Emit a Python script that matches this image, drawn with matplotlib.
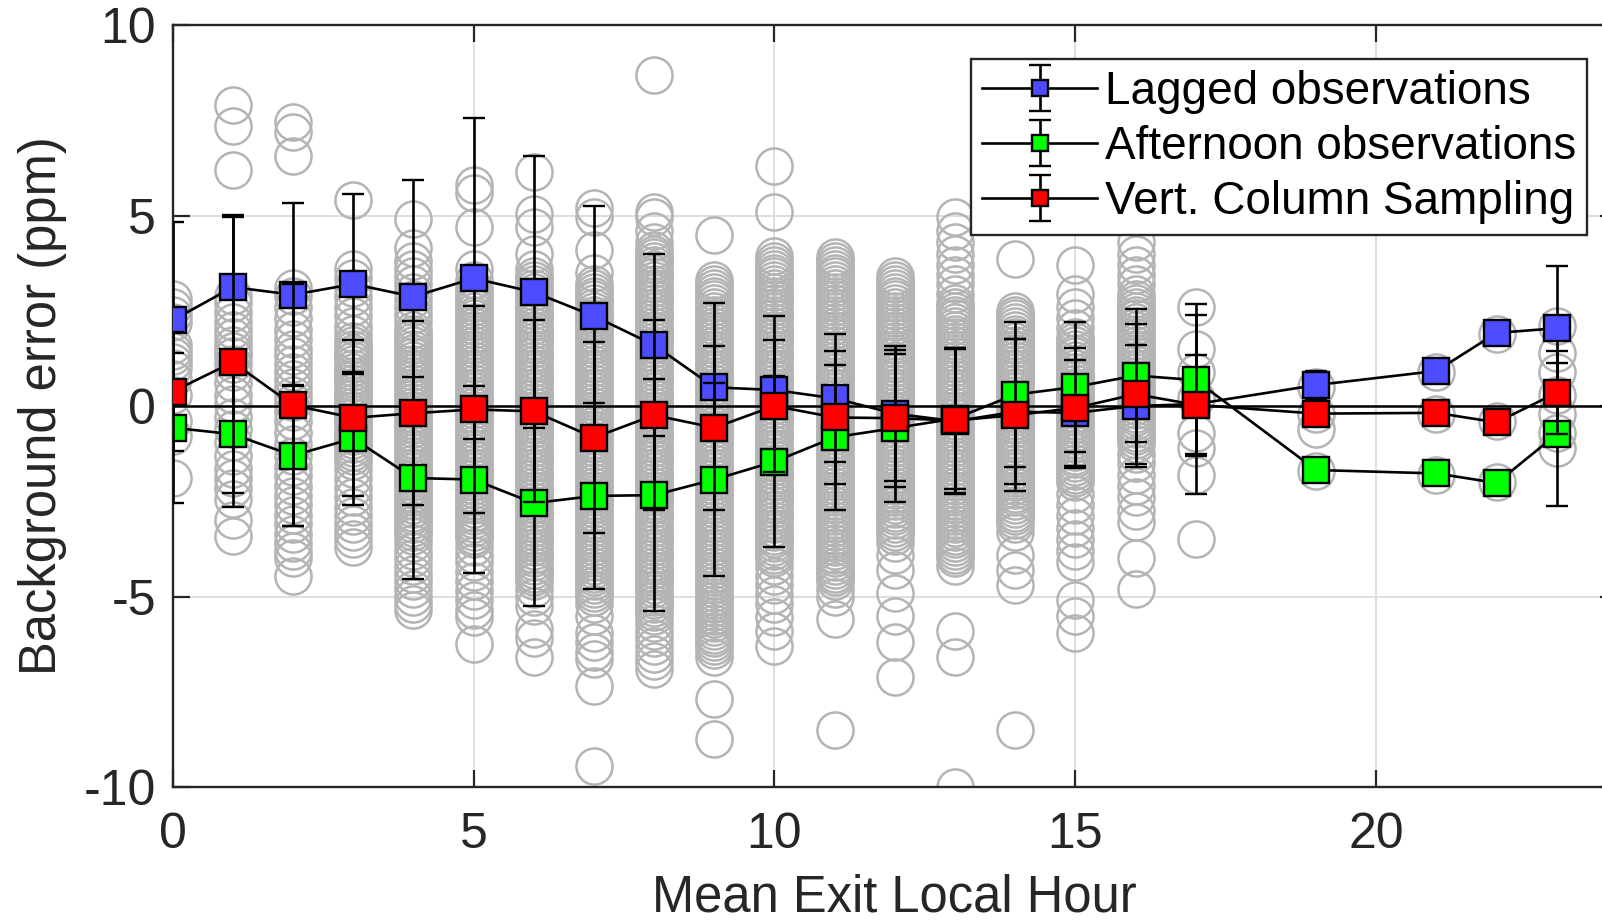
import matplotlib
matplotlib.use("Agg")
import matplotlib.pyplot as plt

plt.rcParams['font.family'] = ['Liberation Sans', 'DejaVu Sans']
plt.rcParams['axes.unicode_minus'] = False

# hours with a mean value
hours = [0, 1, 2, 3, 4, 5, 6, 7, 8, 9, 10, 11, 12, 13, 14, 15, 16, 17, 19, 21, 22, 23]

lagged_mean = [2.25, 3.12, 2.92, 3.20, 2.87, 3.35, 2.99, 2.36, 1.60, 0.49, 0.42, 0.20,
               -0.20, -0.40, -0.15, -0.18, 0.00, 0.05, 0.55, 0.92, 1.92, 2.04]
lagged_err = [2.59, 1.89, 2.40, 2.37, 3.06, 4.22, 3.56, 2.88, 2.38, 2.22, 1.95, 1.68,
              1.77, 1.90, 1.90, 1.40, 1.60, 1.30, 0.38, 0.05, 0.00, 1.64]

afternoon_mean = [-0.57, -0.74, -1.30, -0.85, -1.89, -1.93, -2.55, -2.36, -2.34, -1.93, -1.46, -0.82,
                  -0.58, -0.33, 0.30, 0.50, 0.80, 0.68, -1.68, -1.77, -2.02, -0.74]
afternoon_err = [1.97, 1.55, 1.85, 1.75, 2.66, 2.45, 2.71, 2.44, 3.05, 2.54, 2.24, 1.90,
                 1.95, 1.85, 1.90, 1.70, 1.74, 2.00, 0.30, 0.13, 0.00, 1.88]

column_mean = [0.38, 1.15, 0.02, -0.31, -0.19, -0.09, -0.14, -0.83, -0.24, -0.57, 0.00, -0.30,
               -0.32, -0.38, -0.24, -0.05, 0.31, 0.03, -0.20, -0.18, -0.43, 0.35]
column_err = [1.56, 3.80, 3.18, 2.05, 2.41, 2.71, 2.39, 2.50, 2.50, 2.15, 1.72, 1.75,
              1.80, 1.90, 2.00, 1.58, 1.84, 2.35, 0.31, 0.10, 0.00, 1.09]

# individual background errors (grey circles), one list per hour
pts_00 = [2.8, 2.6, 2.4, 2.2, 1.6, 1.45, 1.3, 1.15, 1.0, 0.7, 0.3, -0.4, -0.8, -1.9]
pts_01 = [7.9, 7.35, 6.2, 2.9, 2.7, 2.45, 2.2, 2.0, 1.8, 1.6, 1.45, 1.3, 1.1, 0.9, 0.6, 0.3,
          0.05, -0.3, -0.6, -0.95, -1.3, -1.65, -1.9, -2.15, -2.45, -3.0, -3.4]
pts_02 = [7.45, 7.2, 6.55, 3.1, 2.9, 2.6, 2.3, 2.0, 1.75, 1.5, 1.3, 1.1, 0.9, 0.7, 0.5, 0.3,
          0.1, -0.15, -0.4, -0.7, -1.0, -1.3, -1.6, -1.85, -2.1, -2.35, -2.6, -2.85, -3.1,
          -3.35, -3.6, -3.8, -4.0, -4.45]
pts_03 = [5.4, 3.6, 3.35, 3.1, 2.85, 2.6, 2.35, 2.1, 1.9,
          1.7, 1.6, 1.5, 1.4, 1.3, 1.2, 1.1, 1.0, 0.9, 0.8, 0.7, 0.6, 0.5, 0.4, 0.3, 0.2,
          0.1, 0.0, -0.1, -0.2, -0.3, -0.4, -0.5, -0.6, -0.7, -0.8, -0.9, -1.0, -1.1, -1.2,
          -1.3, -1.45, -1.65, -1.9, -2.15, -2.4, -2.65, -2.9, -3.1, -3.3, -3.5, -3.7]
pts_04 = [4.9, 4.15, 3.8, 3.6, 3.4, 3.2, 3.0, 2.8, 2.6, 2.4, 2.2,
          2.0, 1.9, 1.8, 1.7, 1.6, 1.5, 1.4, 1.3, 1.2, 1.1, 1.0, 0.9, 0.8, 0.7, 0.6, 0.5,
          0.4, 0.3, 0.2, 0.1, 0.0, -0.1, -0.2, -0.3, -0.4, -0.5, -0.6, -0.7, -0.8, -0.9,
          -1.0, -1.1, -1.2, -1.3, -1.4, -1.5, -1.6, -1.7, -1.8, -1.9, -2.0, -2.1, -2.2,
          -2.3, -2.4, -2.5, -2.6, -2.7, -2.8, -2.9, -3.0, -3.1, -3.2, -3.3, -3.4,
          -3.6, -3.8, -4.0, -4.2, -4.4, -4.6, -4.8, -5.0, -5.2, -5.35]
pts_05 = [5.8, 5.6, 4.7, 3.6, 3.3,
          3.1, 3.0, 2.9, 2.8, 2.7, 2.6, 2.5, 2.4, 2.3, 2.2, 2.1, 2.0, 1.9, 1.8, 1.7, 1.6,
          1.5, 1.4, 1.3, 1.2, 1.1, 1.0, 0.9, 0.8, 0.7, 0.6, 0.5, 0.4, 0.3, 0.2, 0.1, 0.0,
          -0.1, -0.2, -0.3, -0.4, -0.5, -0.6, -0.7, -0.8, -0.9, -1.0, -1.1, -1.2, -1.3,
          -1.4, -1.5, -1.6, -1.7, -1.8, -1.9, -2.0, -2.1, -2.2, -2.3, -2.4, -2.5, -2.6,
          -2.7, -2.8, -2.9, -3.0, -3.1, -3.2, -3.3, -3.4, -3.5,
          -3.7, -3.9, -4.1, -4.35, -4.6, -4.85, -5.1, -5.35, -5.55, -6.25]
pts_06 = [6.15, 5.05, 4.7, 4.0, 3.6,
          3.4, 3.3, 3.2, 3.1, 3.0, 2.9, 2.8, 2.7, 2.6, 2.5, 2.4, 2.3, 2.2, 2.1, 2.0, 1.9,
          1.8, 1.7, 1.6, 1.5, 1.4, 1.3, 1.2, 1.1, 1.0, 0.9, 0.8, 0.7, 0.6, 0.5, 0.4, 0.3,
          0.2, 0.1, 0.0, -0.1, -0.2, -0.3, -0.4, -0.5, -0.6, -0.7, -0.8, -0.9, -1.0, -1.1,
          -1.2, -1.3, -1.4, -1.5, -1.6, -1.7, -1.8, -1.9, -2.0, -2.1, -2.2, -2.3, -2.4,
          -2.5, -2.6, -2.7, -2.8, -2.9, -3.0, -3.1, -3.2, -3.3, -3.4, -3.5, -3.6, -3.7,
          -3.8, -3.9, -4.0, -4.1, -4.2, -4.3, -4.4, -4.5, -4.6,
          -4.8, -5.0, -5.25, -5.85, -6.1, -6.6]
pts_07 = [5.2, 4.95, 4.1, 3.5,
          3.2, 3.1, 3.0, 2.9, 2.8, 2.7, 2.6, 2.5, 2.4, 2.3, 2.2, 2.1, 2.0, 1.9, 1.8, 1.7,
          1.6, 1.5, 1.4, 1.3, 1.2, 1.1, 1.0, 0.9, 0.8, 0.7, 0.6, 0.5, 0.4, 0.3, 0.2, 0.1,
          0.0, -0.1, -0.2, -0.3, -0.4, -0.5, -0.6, -0.7, -0.8, -0.9, -1.0, -1.1, -1.2,
          -1.3, -1.4, -1.5, -1.6, -1.7, -1.8, -1.9, -2.0, -2.1, -2.2, -2.3, -2.4, -2.5,
          -2.6, -2.7, -2.8, -2.9, -3.0, -3.1, -3.2, -3.3, -3.4, -3.5, -3.6, -3.7, -3.8,
          -3.9, -4.0, -4.1, -4.2, -4.3, -4.4, -4.5, -4.6, -4.7, -4.8, -4.9, -5.0,
          -5.2, -5.5, -5.95, -6.2, -6.45, -6.65, -7.35, -9.45]
pts_08 = [8.7, 5.1, 4.95, 4.6, 4.3,
          4.1, 4.0, 3.9, 3.8, 3.7, 3.6, 3.5, 3.4, 3.3, 3.2, 3.1, 3.0, 2.9, 2.8, 2.7, 2.6,
          2.5, 2.4, 2.3, 2.2, 2.1, 2.0, 1.9, 1.8, 1.7, 1.6, 1.5, 1.4, 1.3, 1.2, 1.1, 1.0,
          0.9, 0.8, 0.7, 0.6, 0.5, 0.4, 0.3, 0.2, 0.1, 0.0, -0.1, -0.2, -0.3, -0.4, -0.5,
          -0.6, -0.7, -0.8, -0.9, -1.0, -1.1, -1.2, -1.3, -1.4, -1.5, -1.6, -1.7, -1.8,
          -1.9, -2.0, -2.1, -2.2, -2.3, -2.4, -2.5, -2.6, -2.7, -2.8, -2.9, -3.0, -3.1,
          -3.2, -3.3, -3.4, -3.5, -3.6, -3.7, -3.8, -3.9, -4.0, -4.1, -4.2, -4.3, -4.4,
          -4.5, -4.6, -4.7, -4.8, -4.9, -5.0, -5.1, -5.2, -5.3, -5.4, -5.5,
          -5.7, -5.9, -6.1, -6.3, -6.5, -6.7, -6.9]
pts_09 = [4.5,
          3.3, 3.2, 3.1, 3.0, 2.9, 2.8, 2.7, 2.6, 2.5, 2.4, 2.3, 2.2, 2.1, 2.0, 1.9, 1.8,
          1.7, 1.6, 1.5, 1.4, 1.3, 1.2, 1.1, 1.0, 0.9, 0.8, 0.7, 0.6, 0.5, 0.4, 0.3, 0.2,
          0.1, 0.0, -0.1, -0.2, -0.3, -0.4, -0.5, -0.6, -0.7, -0.8, -0.9, -1.0, -1.1, -1.2,
          -1.3, -1.4, -1.5, -1.6, -1.7, -1.8, -1.9, -2.0, -2.1, -2.2, -2.3, -2.4, -2.5,
          -2.6, -2.7, -2.8, -2.9, -3.0, -3.1, -3.2, -3.3, -3.4, -3.5, -3.6, -3.7, -3.8,
          -3.9, -4.0, -4.1, -4.2, -4.3, -4.4, -4.5, -4.6, -4.7, -4.8, -4.9, -5.0, -5.1,
          -5.2, -5.3, -5.4, -5.5, -5.6, -5.7, -5.8, -5.9, -6.0, -6.1, -6.2, -6.3, -6.4,
          -6.6, -7.7, -8.75]
pts_10 = [6.3, 5.1, 3.95,
          3.8, 3.7, 3.6, 3.5, 3.4, 3.3, 3.2, 3.1, 3.0, 2.9, 2.8, 2.7, 2.6, 2.5, 2.4, 2.3,
          2.2, 2.1, 2.0, 1.9, 1.8, 1.7, 1.6, 1.5, 1.4, 1.3, 1.2, 1.1, 1.0, 0.9, 0.8, 0.7,
          0.6, 0.5, 0.4, 0.3, 0.2, 0.1, 0.0, -0.1, -0.2, -0.3, -0.4, -0.5, -0.6, -0.7,
          -0.8, -0.9, -1.0, -1.1, -1.2, -1.3, -1.4, -1.5, -1.6, -1.7, -1.8, -1.9, -2.0,
          -2.1, -2.2, -2.3, -2.4, -2.5, -2.6, -2.7, -2.8, -2.9, -3.0, -3.1, -3.2, -3.3,
          -3.4, -3.5, -3.6, -3.7, -3.8, -3.9, -4.0,
          -4.2, -4.45, -4.7, -4.95, -5.2, -5.55, -5.9, -6.3]
pts_11 = [3.9, 3.8, 3.7, 3.6, 3.5, 3.4, 3.3, 3.2, 3.1, 3.0, 2.9, 2.8, 2.7, 2.6, 2.5, 2.4,
          2.3, 2.2, 2.1, 2.0, 1.9, 1.8, 1.7, 1.6, 1.5, 1.4, 1.3, 1.2, 1.1, 1.0, 0.9, 0.8,
          0.7, 0.6, 0.5, 0.4, 0.3, 0.2, 0.1, 0.0, -0.1, -0.2, -0.3, -0.4, -0.5, -0.6, -0.7,
          -0.8, -0.9, -1.0, -1.1, -1.2, -1.3, -1.4, -1.5, -1.6, -1.7, -1.8, -1.9, -2.0,
          -2.1, -2.2, -2.3, -2.4, -2.5, -2.6, -2.7, -2.8, -2.9, -3.0, -3.1, -3.2, -3.3,
          -3.4, -3.5, -3.6, -3.7, -3.8, -3.9, -4.0, -4.1, -4.2, -4.3, -4.4, -4.5, -4.6,
          -4.8, -5.0, -5.6, -8.5]
pts_12 = [3.4, 3.3, 3.2, 3.1, 3.0, 2.9, 2.8, 2.7, 2.6, 2.5, 2.4, 2.3, 2.2, 2.1, 2.0, 1.9,
          1.8, 1.7, 1.6, 1.5, 1.4, 1.3, 1.2, 1.1, 1.0, 0.9, 0.8, 0.7, 0.6, 0.5, 0.4, 0.3,
          0.2, 0.1, 0.0, -0.1, -0.2, -0.3, -0.4, -0.5, -0.6, -0.7, -0.8, -0.9, -1.0, -1.1,
          -1.2, -1.3, -1.4, -1.5, -1.6, -1.7, -1.8, -1.9, -2.0, -2.1, -2.2, -2.3, -2.4,
          -2.5, -2.6, -2.7, -2.8, -2.9, -3.0, -3.1, -3.2, -3.3, -3.4,
          -3.6, -3.9, -4.3, -4.9, -5.5, -6.2, -7.1]
pts_13 = [4.95, 4.6, 4.3, 4.0, 3.7, 3.45, 3.2, 2.95,
          2.7, 2.6, 2.5, 2.4, 2.3, 2.2, 2.1, 2.0, 1.9, 1.8, 1.7, 1.6, 1.5, 1.4, 1.3, 1.2,
          1.1, 1.0, 0.9, 0.8, 0.7, 0.6, 0.5, 0.4, 0.3, 0.2, 0.1, 0.0, -0.1, -0.2, -0.3,
          -0.4, -0.5, -0.6, -0.7, -0.8, -0.9, -1.0, -1.1, -1.2, -1.3, -1.4, -1.5, -1.6,
          -1.7, -1.8, -1.9, -2.0, -2.1, -2.2, -2.3, -2.4, -2.5, -2.6, -2.7, -2.8, -2.9,
          -3.0, -3.1, -3.2, -3.3, -3.4, -3.5, -3.6, -3.7, -3.8, -3.9, -4.0,
          -4.2, -5.9, -6.6, -10.0]
pts_14 = [3.85,
          2.5, 2.4, 2.3, 2.2, 2.1, 2.0, 1.9, 1.8, 1.7, 1.6, 1.5, 1.4, 1.3, 1.2, 1.1, 1.0,
          0.9, 0.8, 0.7, 0.6, 0.5, 0.4, 0.3, 0.2, 0.1, 0.0, -0.1, -0.2, -0.3, -0.4, -0.5,
          -0.6, -0.7, -0.8, -0.9, -1.0, -1.1, -1.2, -1.3, -1.4, -1.5, -1.6, -1.7, -1.8,
          -1.9, -2.0, -2.1, -2.2, -2.3, -2.4, -2.5, -2.6, -2.7, -2.8, -2.9, -3.0, -3.1,
          -3.3, -3.9, -4.3, -4.7, -8.5]
pts_15 = [3.7, 2.95, 2.6, 2.3, 2.05,
          1.8, 1.7, 1.6, 1.5, 1.4, 1.3, 1.2, 1.1, 1.0, 0.9, 0.8, 0.7, 0.6, 0.5, 0.4, 0.3,
          0.2, 0.1, 0.0, -0.1, -0.2, -0.3, -0.4, -0.5, -0.6, -0.7, -0.8, -0.9, -1.0, -1.1,
          -1.2, -1.3, -1.4, -1.5, -1.6, -1.7, -1.8, -1.9, -2.0,
          -2.3, -2.6, -2.9, -3.2, -3.5, -3.8, -4.1, -5.1, -5.5, -5.95]
pts_16 = [4.3, 4.0, 3.7, 3.45, 3.2, 2.95,
          2.8, 2.7, 2.6, 2.5, 2.4, 2.3, 2.2, 2.1, 2.0, 1.9, 1.8, 1.7, 1.6, 1.5, 1.4, 1.3,
          1.2, 1.1, 1.0, 0.9, 0.8, 0.7, 0.6, 0.5, 0.4, 0.3, 0.2, 0.1, 0.0, -0.1, -0.2,
          -0.3, -0.4, -0.5, -0.6, -0.7, -0.8, -0.9, -1.0,
          -1.25, -1.5, -1.8, -2.1, -2.4, -2.75, -3.05, -4.0, -4.8]
pts_17 = [2.6, 1.5, 0.9, 0.2, -0.7, -1.1, -1.8, -3.5]
pts_19 = [0.5, -0.2, -0.6, -1.7]
pts_21 = [0.9, -0.2, -1.8]
pts_22 = [1.9, -0.4, -2.0]
pts_23 = [2.1, 1.4, 0.9, 0.3, -0.2, -0.7, -1.1]

points = [pts_00, pts_01, pts_02, pts_03, pts_04, pts_05, pts_06, pts_07, pts_08, pts_09,
          pts_10, pts_11, pts_12, pts_13, pts_14, pts_15, pts_16, pts_17, pts_19, pts_21,
          pts_22, pts_23]

W, H = 1602, 923
fig = plt.figure(figsize=(W / 100, H / 100), dpi=100)
ax = fig.add_axes([172.7 / W, 1 - 787 / H, (1617 - 172.7) / W, (787 - 25) / H])

dark = '#262626'

# grey circles behind everything
for h, vals in zip(hours, points):
    ax.plot([h] * len(vals), vals, linestyle='none', marker='o', ms=26,
            mfc='none', mec='#b4b4b4', mew=1.8, zorder=1)

ax.axhline(0, color='k', lw=1.8, zorder=2)

series = [
    (lagged_mean, lagged_err, '#4d4dff', 'Lagged observations'),
    (afternoon_mean, afternoon_err, '#00ff00', 'Afternoon observations'),
    (column_mean, column_err, '#ff0000', 'Vert. Column Sampling'),
]
for i, (m, e, c, lab) in enumerate(series):
    ax.errorbar(hours, m, yerr=e, color='k', lw=1.9, marker='s', ms=18.5,
                mfc=c, mec='k', mew=1.7, ecolor='k', elinewidth=1.9,
                capsize=7.8, capthick=1.9, zorder=3 + i, label=lab)

ax.set_xlim(0, 24)
ax.set_ylim(-10, 10)
ax.set_xticks([0, 5, 10, 15, 20])
ax.set_yticks([-10, -5, 0, 5, 10])
ax.grid(True, color='#dedede', lw=1.4)
ax.set_axisbelow(True)
ax.tick_params(direction='in', length=12, width=1.6, top=True, right=True,
               labelsize=36, color=dark, labelcolor=dark)
ax.tick_params(axis='x', pad=18)
ax.tick_params(axis='y', pad=12)
for sp in ax.spines.values():
    sp.set_color(dark)
    sp.set_linewidth(1.7)

ax.set_xlabel('Mean Exit Local Hour', fontsize=36.5, color=dark, labelpad=11)
ax.set_ylabel('Background error (ppm)', fontsize=36.5, color=dark, labelpad=12)

leg = ax.legend(loc='upper right', bbox_to_anchor=(1587 / W, 1 - 59 / H),
                bbox_transform=fig.transFigure, borderaxespad=0, fontsize=33,
                markerscale=0.6, handlelength=2.5, handletextpad=0.17,
                labelspacing=0.24, borderpad=0.24, fancybox=False, framealpha=1)
leg.get_frame().set_edgecolor(dark)
leg.get_frame().set_linewidth(1.7)

fig.savefig('out.png', dpi=100)
